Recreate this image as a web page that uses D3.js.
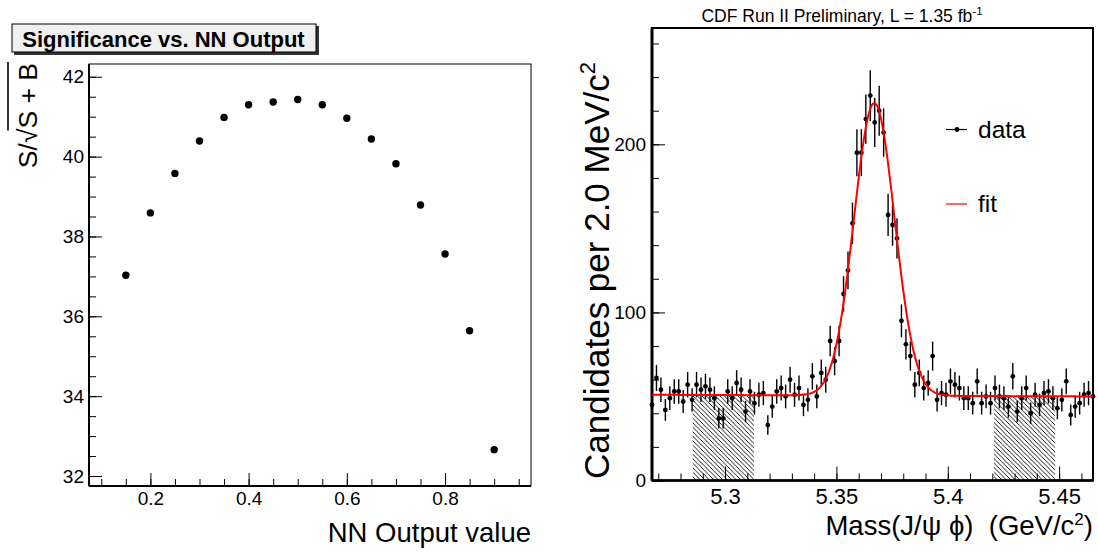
<!DOCTYPE html>
<html>
<head>
<meta charset="utf-8">
<script src="https://cdn.jsdelivr.net/npm/d3@7"></script>
<style>
  html, body { margin: 0; padding: 0; background: #fff; }
  svg { display: block; font-family: "Liberation Sans", Arial, Helvetica, sans-serif; }
</style>
</head>
<body>
<svg id="chart" width="1098" height="554"></svg>
<script>
// ---------------- Data ----------------
// Left panel: significance vs NN output cut
const nnCut = [0.15, 0.20, 0.25, 0.30, 0.35, 0.40, 0.45, 0.50, 0.55, 0.60, 0.65, 0.70, 0.75, 0.80, 0.85, 0.90];
const significance = [37.03, 38.59, 39.58, 40.39, 40.98, 41.30, 41.37, 41.43, 41.30, 40.96, 40.44, 39.82, 38.79, 37.56, 35.64, 32.66];
const leftXTicks = [0.2, 0.4, 0.6, 0.8];
const leftYTicks = [32, 34, 36, 38, 40, 42];

// Right panel: J/psi phi mass histogram (2 MeV bins)
const massFirstBin = 5.2672;
const massBinWidth = 0.002;
const counts = [45, 61, 54, 42, 49, 53, 53, 47, 57, 48,
                57, 54, 56, 54, 49, 37, 37, 53, 49, 58,
                54, 41, 53, 46, 51, 52, 33, 44, 53, 55,
                50, 60, 51, 55, 45, 48, 62, 50, 64, 60,
                83, 71, 83, 111, 125, 153, 195, 195, 215, 229,
                213, 220, 207, 158, 152, 144, 95, 81, 74, 57,
                64, 55, 58, 74, 48, 52, 51, 59, 57, 55,
                49, 49, 46, 59, 46, 50, 46, 55, 50, 49,
                44, 62, 41, 49, 55, 40, 51, 45, 52, 53,
                49, 43, 48, 59, 39, 44, 46, 51, 52, 50];
// Fit: gaussian signal + linear background
const fitMean = 5.367, fitSigma = 0.0091, fitAmp = 174, fitBkg = 50.5, fitBkgSlope = -5;
const sidebands = [[5.2855, 5.313], [5.4207, 5.4482]];
const rightXTicks = [5.30, 5.35, 5.40, 5.45];
const rightYTicks = [0, 100, 200];

// ---------------- Setup ----------------
const svg = d3.select("#chart");
const FONT = '"Liberation Sans", Arial, Helvetica, sans-serif';

// ---------------- Left panel ----------------
const L = {x0: 89, x1: 531, y0: 64, y1: 486};
const xL = d3.scaleLinear().domain([0.075, 0.975]).range([L.x0, L.x1]);
const yL = d3.scaleLinear().domain([31.75, 42.32]).range([L.y1, L.y0]);

const gl = svg.append("g");
gl.append("rect").attr("x", L.x0).attr("y", L.y0).attr("width", L.x1 - L.x0).attr("height", L.y1 - L.y0)
  .attr("fill", "none").attr("stroke", "#000").attr("stroke-width", 1);

// minor ticks
gl.append("g").attr("transform", `translate(0,${L.y1})`)
  .call(d3.axisBottom(xL).tickValues(d3.range(0.1, 0.96, 0.05)).tickSize(-7).tickFormat(""))
  .call(g => g.select(".domain").remove());
gl.append("g").attr("transform", `translate(${L.x0},0)`)
  .call(d3.axisLeft(yL).tickValues(d3.range(32, 42.01, 0.5)).tickSize(-7).tickFormat(""))
  .call(g => g.select(".domain").remove());
// major ticks with labels
gl.append("g").attr("transform", `translate(0,${L.y1})`)
  .call(d3.axisBottom(xL).tickValues(leftXTicks).tickSize(-13).tickPadding(6).tickFormat(d3.format(".1f")))
  .call(g => g.select(".domain").remove())
  .call(g => g.selectAll("text").attr("font-size", 19).attr("font-family", FONT).attr("fill", "#000"));
gl.append("g").attr("transform", `translate(${L.x0},0)`)
  .call(d3.axisLeft(yL).tickValues(leftYTicks).tickSize(-13).tickPadding(5).tickFormat(d3.format("d")))
  .call(g => g.select(".domain").remove())
  .call(g => g.selectAll("text").attr("font-size", 19).attr("font-family", FONT).attr("fill", "#000"));
gl.selectAll(".tick line").attr("stroke", "#000");
// axis lines
gl.append("line").attr("x1", L.x0).attr("x2", L.x1).attr("y1", L.y1).attr("y2", L.y1).attr("stroke", "#000").attr("stroke-width", 2);
gl.append("line").attr("x1", L.x0).attr("x2", L.x0).attr("y1", L.y0).attr("y2", L.y1).attr("stroke", "#000").attr("stroke-width", 2);

// points
gl.selectAll("circle.pt").data(nnCut.map((d, i) => [d, significance[i]])).enter()
  .append("circle").attr("class", "pt")
  .attr("cx", d => xL(d[0])).attr("cy", d => yL(d[1])).attr("r", 3.7).attr("fill", "#000");

// x title
gl.append("text").attr("x", L.x1).attr("y", 542).attr("text-anchor", "end")
  .attr("font-size", 27.5).attr("fill", "#000").text("NN Output value");

// y title S/sqrt(S+B)
const yt = gl.append("g").attr("transform", `translate(37,${L.y0 - 1}) rotate(-90)`);
const ytText = yt.append("text").attr("x", 0).attr("y", 0).attr("text-anchor", "end").attr("font-size", 26.5);
ytText.append("tspan").text("S/√");
ytText.append("tspan").attr("class", "rad").text("S + B");
{
  const w = yt.select("tspan.rad").node().getComputedTextLength();
  yt.append("line").attr("x1", -w - 2).attr("x2", 1).attr("y1", -29).attr("y2", -29)
    .attr("stroke", "#000").attr("stroke-width", 1.6);
}

// title box
gl.append("rect").attr("x", 14).attr("y", 26).attr("width", 305).attr("height", 29).attr("fill", "#333");
gl.append("rect").attr("x", 12).attr("y", 24).attr("width", 304).attr("height", 28)
  .attr("fill", "#f0f0f0").attr("stroke", "#000").attr("stroke-width", 1);
gl.append("text").attr("x", 163.5).attr("y", 46.5).attr("text-anchor", "middle")
  .attr("font-size", 22).attr("font-weight", "bold").attr("fill", "#000").text("Significance vs. NN Output");

// ---------------- Right panel ----------------
const R = {x0: 652, x1: 1093, y0: 28, y1: 480.5};
const xR = d3.scaleLinear().domain([5.2672, 5.4652]).range([R.x0, R.x1]);
const yR = d3.scaleLinear().domain([0, 269.2]).range([R.y1, R.y0]);
const gr = svg.append("g");

const defs = svg.append("defs");
const pat = defs.append("pattern").attr("id", "hatch").attr("patternUnits", "userSpaceOnUse")
  .attr("width", 4.5).attr("height", 4.5);
pat.append("path").attr("d", "M-1,-1 L5.5,5.5 M-1,3.5 L1,5.5 M3.5,-1 L5.5,1")
  .attr("stroke", "#000").attr("stroke-width", 0.9);
defs.append("clipPath").attr("id", "clipR").append("rect")
  .attr("x", R.x0).attr("y", R.y0).attr("width", R.x1 - R.x0).attr("height", R.y1 - R.y0);

const fitFn = m => fitBkg + fitBkgSlope * (m - fitMean) + fitAmp * Math.exp(-0.5 * Math.pow((m - fitMean) / fitSigma, 2));

// hatched sidebands
sidebands.forEach(sb => {
  const pts = d3.range(0, 41).map(k => sb[0] + (sb[1] - sb[0]) * k / 40);
  gr.append("path").datum(pts)
    .attr("d", d3.area().x(m => xR(m)).y0(yR(0)).y1(m => yR(fitFn(m))))
    .attr("fill", "url(#hatch)").attr("stroke", "none");
});

// frame
gr.append("rect").attr("x", R.x0).attr("y", R.y0).attr("width", R.x1 - R.x0).attr("height", R.y1 - R.y0)
  .attr("fill", "none").attr("stroke", "#000").attr("stroke-width", 2);

// ticks
gr.append("g").attr("transform", `translate(0,${R.y1})`)
  .call(d3.axisBottom(xR).tickValues(d3.range(5.27, 5.4601, 0.01)).tickSize(-7).tickFormat(""))
  .call(g => g.select(".domain").remove());
gr.append("g").attr("transform", `translate(${R.x0},0)`)
  .call(d3.axisLeft(yR).tickValues(d3.range(0, 261, 20)).tickSize(-7).tickFormat(""))
  .call(g => g.select(".domain").remove());
gr.append("g").attr("transform", `translate(0,${R.y1})`)
  .call(d3.axisBottom(xR).tickValues(rightXTicks).tickSize(-14).tickPadding(8).tickFormat(d => d3.format(".2~f")(d)))
  .call(g => g.select(".domain").remove())
  .call(g => g.selectAll("text").attr("font-size", 22).attr("font-family", FONT).attr("fill", "#000"));
gr.append("g").attr("transform", `translate(${R.x0},0)`)
  .call(d3.axisLeft(yR).tickValues(rightYTicks).tickSize(-13).tickPadding(6).tickFormat(d3.format("d")))
  .call(g => g.select(".domain").remove())
  .call(g => g.selectAll("text").attr("font-size", 19).attr("font-family", FONT).attr("fill", "#000"));
gr.selectAll(".tick line").attr("stroke", "#000");
gr.append("line").attr("x1", R.x0).attr("x2", R.x0).attr("y1", R.y0).attr("y2", R.y1).attr("stroke", "#000").attr("stroke-width", 3);
gr.append("line").attr("x1", R.x0).attr("x2", R.x1).attr("y1", R.y1).attr("y2", R.y1).attr("stroke", "#000").attr("stroke-width", 2.5);

// data with error bars
const hist = counts.map((c, i) => ({m: massFirstBin + i * massBinWidth, n: c}));
const gd = gr.append("g");
gd.selectAll("line.err").data(hist).enter().append("line").attr("class", "err")
  .attr("x1", d => xR(d.m)).attr("x2", d => xR(d.m))
  .attr("y1", d => yR(d.n - Math.sqrt(d.n))).attr("y2", d => yR(d.n + Math.sqrt(d.n)))
  .attr("stroke", "#000").attr("stroke-width", 1.4);
gd.selectAll("circle.pt").data(hist).enter().append("circle").attr("class", "pt")
  .attr("cx", d => xR(d.m)).attr("cy", d => yR(d.n)).attr("r", 2.4).attr("fill", "#000");

// fit curve
const fitX = d3.range(0, 601).map(k => 5.2672 + (5.4652 - 5.2672) * k / 600);
gr.append("path").datum(fitX).attr("clip-path", "url(#clipR)")
  .attr("d", d3.line().x(m => xR(m)).y(m => yR(fitFn(m))))
  .attr("fill", "none").attr("stroke", "#ff0000").attr("stroke-width", 2);

// legend
gr.append("line").attr("x1", 946).attr("x2", 967).attr("y1", 129.5).attr("y2", 129.5).attr("stroke", "#000").attr("stroke-width", 1.2);
gr.append("circle").attr("cx", 957).attr("cy", 129.5).attr("r", 2.4).attr("fill", "#000");
gr.append("text").attr("x", 978).attr("y", 137.5).attr("font-size", 24.5).attr("fill", "#000").text("data");
gr.append("line").attr("x1", 946).attr("x2", 967).attr("y1", 204).attr("y2", 204).attr("stroke", "#ff0000").attr("stroke-width", 1.2);
gr.append("text").attr("x", 978).attr("y", 212).attr("font-size", 24.5).attr("fill", "#000").text("fit");

// title
const tt = gr.append("text").attr("x", 842).attr("y", 21.5).attr("text-anchor", "middle").attr("font-size", 17.5).attr("fill", "#000");
tt.append("tspan").text("CDF Run II Preliminary, L = 1.35 fb");
tt.append("tspan").attr("dy", -7).attr("font-size", 11.5).text("-1");

// x title
const xt = gr.append("text").attr("x", R.x1).attr("y", 535).attr("text-anchor", "end").attr("font-size", 27.5).attr("fill", "#000");
xt.append("tspan").text("Mass(J/ψ ϕ)\u00A0\u00A0(GeV/c");
xt.append("tspan").attr("dy", -10).attr("font-size", 17).text("2");
xt.append("tspan").attr("dy", 10).text(")");

// y title
const yr = gr.append("text").attr("transform", `translate(609,62) rotate(-90)`)
  .attr("text-anchor", "end").attr("font-size", 35).attr("fill", "#000");
yr.append("tspan").text("Candidates per 2.0 MeV/c");
yr.append("tspan").attr("dy", -14).attr("font-size", 22).text("2");
</script>
</body>
</html>
